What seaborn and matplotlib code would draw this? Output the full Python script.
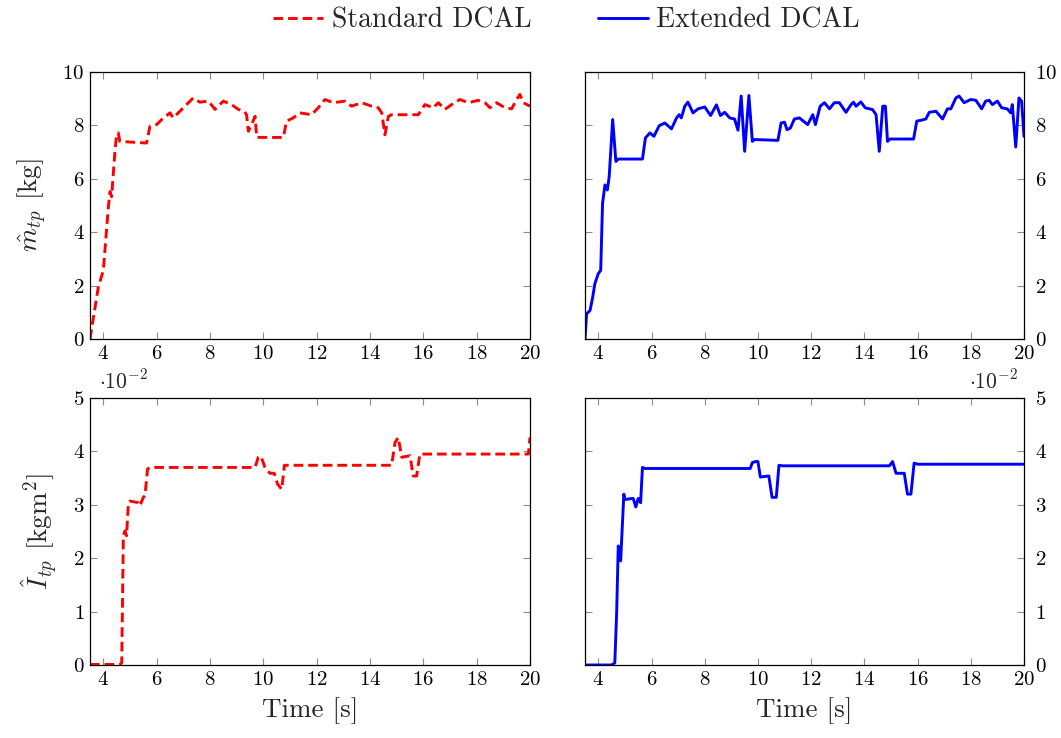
import matplotlib
matplotlib.use('Agg')
import matplotlib.pyplot as plt
import numpy as np
import seaborn as sns

# Standard DCAL, estimated mass [kg]
std_m_t = [3.5, 3.81, 4.0, 4.19, 4.25, 4.31, 4.44, 4.5, 4.56, 4.62, 5.62, 5.75, 6.0, 6.19,
           6.5, 6.62, 6.87, 7.12, 7.37, 7.62, 7.94, 8.19, 8.5, 8.81, 9.06, 9.29, 9.37, 9.44,
           9.56, 9.69, 9.75, 10.75, 10.87, 11.12, 11.37, 11.81, 12.06, 12.31, 12.62, 13.06,
           13.31, 13.69, 14.06, 14.31, 14.44, 14.56, 14.69, 14.81, 15.81, 16.06, 16.37, 16.56,
           16.81, 17.06, 17.37, 17.69, 18.06, 18.31, 18.5, 18.75, 19.06, 19.31, 19.5, 19.62,
           19.75, 20.0]
std_m = [0.0, 1.94, 2.57, 4.96, 5.52, 5.33, 7.09, 7.65, 7.72, 7.4, 7.34, 7.97, 8.03, 8.22,
         8.47, 8.28, 8.53, 8.78, 9.03, 8.87, 8.91, 8.6, 8.91, 8.78, 8.6, 8.53, 8.4, 7.78,
         8.03, 8.34, 7.55, 7.55, 8.16, 8.28, 8.47, 8.4, 8.66, 8.97, 8.85, 8.91,
         8.72, 8.85, 8.72, 8.66, 8.47, 7.65, 8.34, 8.4, 8.4, 8.78, 8.66, 8.85,
         8.6, 8.78, 8.97, 8.85, 8.94, 8.85, 8.66, 8.85, 8.66, 8.62, 8.97, 9.16,
         8.85, 8.72]

# Extended DCAL, estimated mass [kg]
ext_m_t = [3.5, 3.56, 3.69, 3.79, 3.87, 4.0, 4.09, 4.16, 4.25, 4.34, 4.41, 4.54, 4.66, 4.75,
           5.66, 5.77, 5.94, 6.09, 6.29, 6.5, 6.75, 6.94, 7.04, 7.12, 7.25, 7.37, 7.56, 7.75,
           8.0, 8.22, 8.44, 8.59, 8.75, 8.94, 9.12, 9.25, 9.37, 9.5, 9.66, 9.79, 9.87,
           10.75, 10.87, 11.0, 11.09, 11.22, 11.37, 11.56, 11.87, 12.06, 12.16, 12.34, 12.5,
           12.69, 12.87, 13.06, 13.31, 13.5, 13.59, 13.69, 13.87, 14.03, 14.31, 14.44, 14.56,
           14.69, 14.79, 14.87, 14.96, 15.85, 15.97, 16.12, 16.31, 16.44, 16.69, 16.94, 17.12,
           17.25, 17.44, 17.56, 17.75, 18.0, 18.19, 18.41, 18.56, 18.69, 18.81, 19.0, 19.16,
           19.37, 19.5, 19.56, 19.69, 19.81, 19.91, 20.0]
ext_m = [0.0, 0.94, 1.07, 1.57, 2.07, 2.45, 2.57, 5.08, 5.77, 5.58, 6.09, 8.22, 6.65, 6.74,
         6.74, 7.53, 7.72, 7.59, 7.99, 8.09, 7.87, 8.28, 8.4, 8.28, 8.72, 8.87, 8.47, 8.62,
         8.69, 8.37, 8.77, 8.37, 8.49, 8.28, 8.24, 7.82, 9.1, 7.03, 9.12, 7.4, 7.47,
         7.44, 8.09, 8.12, 7.84, 7.9, 8.24, 8.28, 8.03, 8.4, 8.03, 8.72, 8.85,
         8.62, 8.85, 8.85, 8.49, 8.78, 8.87, 8.72, 8.88, 8.66, 8.59, 8.4, 7.03,
         8.72, 8.72, 7.4, 7.49, 7.49, 8.16, 8.19, 8.24, 8.49, 8.53, 8.24, 8.62,
         8.62, 9.03, 9.1, 8.85, 8.97, 8.94, 8.62, 8.91, 8.94, 8.78, 8.91, 8.66,
         8.62, 8.47, 8.78, 7.19, 9.03, 8.91, 7.59]

# Standard DCAL, estimated inertia [kgm^2 x 1e-2]
std_i_t = [3.5, 4.62, 4.69, 4.75, 4.81, 4.87, 4.94, 5.0, 5.31, 5.37, 5.5, 5.56, 5.66, 5.75,
           9.69, 9.81, 9.91, 10.06, 10.25, 10.41, 10.53, 10.69, 10.79, 10.94, 14.81, 14.94,
           15.06, 15.19, 15.5, 15.62, 15.75, 15.87, 15.96, 19.94, 20.0]
std_i = [0.01, 0.01, 0.04, 2.42, 2.51, 2.42, 3.04, 3.07, 3.04, 2.98, 3.14, 3.17, 3.67, 3.7,
         3.7, 3.89, 3.91, 3.7, 3.59, 3.59, 3.39, 3.29, 3.74, 3.74, 3.74, 4.17,
         4.26, 3.89, 3.92, 3.54, 3.54, 3.95, 3.95, 3.95, 4.26]

# Extended DCAL, estimated inertia [kgm^2 x 1e-2]
ext_i_t = [3.5, 4.5, 4.62, 4.69, 4.75, 4.84, 4.96, 5.0, 5.31, 5.41, 5.5, 5.59, 5.66, 5.75,
           9.71, 9.79, 9.91, 10.0, 10.09, 10.41, 10.53, 10.69, 10.79, 10.91, 14.94, 15.06,
           15.19, 15.5, 15.62, 15.75, 15.87, 16.0, 20.0]
ext_i = [0.0, 0.0, 0.04, 0.98, 2.23, 1.95, 3.2, 3.1, 3.12, 2.96, 3.12, 3.04, 3.7, 3.68,
         3.68, 3.79, 3.81, 3.81, 3.52, 3.54, 3.14, 3.14, 3.74, 3.73, 3.73, 3.81,
         3.59, 3.59, 3.2, 3.2, 3.78, 3.76, 3.76]

sns.set_theme(style='ticks')
plt.rcParams['font.family'] = ['cmr10', 'DejaVu Serif']
plt.rcParams['mathtext.fontset'] = 'cm'
plt.rcParams['axes.formatter.use_mathtext'] = True
plt.rcParams['axes.unicode_minus'] = False

fig = plt.figure(figsize=(10.61, 7.38), dpi=100)
W, H = 1061, 738
def box(l, t, r, b):
    return [l / W, 1 - b / H, (r - l) / W, (b - t) / H]

ax_ml = fig.add_axes(box(90, 72, 530, 339))
ax_mr = fig.add_axes(box(585, 72, 1024, 339))
ax_il = fig.add_axes(box(90, 398, 530, 665))
ax_ir = fig.add_axes(box(585, 398, 1024, 665))

red_dash = (3.3, 1.7)
lw = 2.1

sns.lineplot(x=std_m_t, y=std_m, ax=ax_ml, color='red', lw=lw, sort=False,
             estimator=None, legend=False, label='Standard DCAL')
ax_ml.lines[-1].set_dashes(red_dash)
sns.lineplot(x=ext_m_t, y=ext_m, ax=ax_mr, color='blue', lw=lw, sort=False,
             estimator=None, legend=False, label='Extended DCAL')
sns.lineplot(x=std_i_t, y=std_i, ax=ax_il, color='red', lw=lw, sort=False,
             estimator=None, legend=False)
ax_il.lines[-1].set_dashes(red_dash)
sns.lineplot(x=ext_i_t, y=ext_i, ax=ax_ir, color='blue', lw=lw, sort=False,
             estimator=None, legend=False)

for ax in [ax_ml, ax_mr, ax_il, ax_ir]:
    ax.set_xlim(3.5, 20)
    ax.set_xticks(np.arange(4, 21, 2))
    ax.tick_params(direction='in', length=5, width=0.8, color='0.55',
                   top=True, bottom=True, left=True, right=True,
                   labelsize=15, colors='0.55', labelcolor='black', pad=4)
    for s in ax.spines.values():
        s.set_color('black')
        s.set_linewidth(0.9)
    ax.set_xlabel('')
    ax.set_ylabel('')

for ax in [ax_ml, ax_mr]:
    ax.set_ylim(0, 10)
    ax.set_yticks(np.arange(0, 11, 2))
for ax in [ax_il, ax_ir]:
    ax.set_ylim(0, 5)
    ax.set_yticks(np.arange(0, 6, 1))

for ax in [ax_mr, ax_ir]:
    ax.tick_params(axis='y', labelleft=False, labelright=True, pad=8)

ax_ml.set_ylabel(r'$\hat{m}_{tp}$ [kg]', fontsize=19.5, labelpad=10)
ax_il.set_ylabel(r'$\hat{I}_{tp}$ [kgm$^2$]', fontsize=19.5, labelpad=10)
ax_il.set_xlabel('Time [s]', fontsize=19.5, labelpad=6)
ax_ir.set_xlabel('Time [s]', fontsize=19.5, labelpad=6)

ax_il.text(0.02, 1.02, r'$\cdot 10^{-2}$', transform=ax_il.transAxes,
           fontsize=15.5, ha='left', va='bottom')
ax_ir.text(0.985, 1.02, r'$\cdot 10^{-2}$', transform=ax_ir.transAxes,
           fontsize=15.5, ha='right', va='bottom')

handles = [ax_ml.lines[0], ax_mr.lines[0]]
fig.legend(handles, ['Standard DCAL', 'Extended DCAL'], loc='center',
           bbox_to_anchor=(0.534, 0.972), ncol=2, frameon=False, fontsize=20,
           handlelength=1.8, columnspacing=2.4, handletextpad=0.3)

fig.savefig('out.png', dpi=100)
